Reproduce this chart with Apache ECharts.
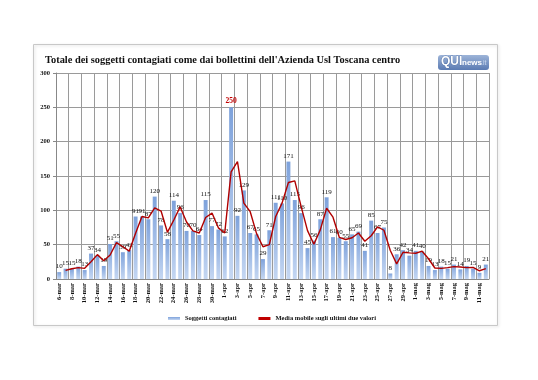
<!DOCTYPE html>
<html><head><meta charset="utf-8">
<script src="https://cdn.jsdelivr.net/npm/echarts@6/dist/echarts.min.js"></script>
<style>html,body{margin:0;padding:0;background:#fff}#c{width:538px;height:380px}</style>
</head><body><div id="c"></div>
<script>
const categories = ['6-mar','7-mar','8-mar','9-mar','10-mar','11-mar','12-mar','13-mar','14-mar','15-mar','16-mar','17-mar','18-mar','19-mar','20-mar','21-mar','22-mar','23-mar','24-mar','25-mar','26-mar','27-mar','28-mar','29-mar','30-mar','31-mar',
'1-apr','2-apr','3-apr','4-apr','5-apr','6-apr','7-apr','8-apr','9-apr','10-apr','11-apr','12-apr','13-apr','14-apr','15-apr','16-apr','17-apr','18-apr','19-apr','20-apr','21-apr','22-apr','23-apr','24-apr','25-apr','26-apr','27-apr','28-apr','29-apr','30-apr',
'1-mag','2-mag','3-mag','4-mag','5-mag','6-mag','7-mag','8-mag','9-mag','10-mag','11-mag','12-mag'];
const contagiati = [10,15,15,18,13,37,34,19,51,55,39,42,91,91,87,120,78,58,114,96,70,70,64,115,77,72,62,250,92,129,67,65,29,71,111,110,171,115,96,45,56,87,119,61,60,55,65,69,41,85,67,75,8,36,42,34,41,40,19,13,18,15,21,14,19,15,9,21];
const mediaMobile = ['-',12.5,15,16.5,15.5,25,35.5,26.5,35,53,47,40.5,66.5,91,89,103.5,99,68,86,105,83,70,67,89.5,96,74.5,67,156,171,110.5,98,66,47,50,91,110.5,140.5,143,105.5,70.5,50.5,71.5,103,90,60.5,57.5,60,67,55,63,76,71,41.5,22,39,38,37.5,40.5,29.5,16,15.5,16.5,18,17.5,16.5,17,12,15];
const yTicks = {min:0, max:300, interval:50};
const titleText = "Totale dei soggetti contagiati come dai bollettini dell'Azienda Usl Toscana centro";
const serif = 'Liberation Serif';

const chart = echarts.init(document.getElementById('c'));
const maxVal = Math.max(...contagiati);
chart.setOption({
  animation:false,
  backgroundColor:'#fff',
  graphic:[
    {type:'rect', shape:{x:33.5,y:44.5,width:464,height:281}, style:{fill:'none', stroke:'#c8c8c8', lineWidth:1, shadowColor:'rgba(0,0,0,0.15)', shadowBlur:3, shadowOffsetX:1, shadowOffsetY:1}, z:-1},
    {type:'text', left:45, top:55, style:{text:titleText, font:'bold 10.4px "Liberation Serif"', fill:'#111'}},
    {type:'group', left:438, top:55, children:[
      {type:'rect', shape:{x:0,y:0,width:51,height:15,r:3}, style:{fill:new echarts.graphic.LinearGradient(0,0,0,1,[{offset:0,color:'#9db4d8'},{offset:1,color:'#5b7bb3'}])}},
      {type:'text', x:3, y:1, style:{text:'QUI', font:'bold 12px "Liberation Sans"', fill:'#fff', stroke:'#3d5f99', lineWidth:0.6}},
      {type:'text', x:24, y:4, style:{text:'news', font:'bold 8px "Liberation Sans"', fill:'#fff'}},
      {type:'text', x:43, y:5, style:{text:'.it', font:'7px "Liberation Sans"', fill:'#c9d8ef'}}
    ]}
  ],
  grid:{left:56, right:49, top:73, bottom:101, containLabel:false},
  legend:{
    left:163, top:310, itemWidth:12, itemHeight:3, itemGap:22,
    textStyle:{fontFamily:serif, fontSize:6.5, fontWeight:'bold', color:'#111'},
    data:[{name:'Soggetti contagiati', icon:'rect'},{name:'Media mobile sugli ultimi due valori', icon:'rect'}]
  },
  xAxis:{
    type:'category', data:categories, boundaryGap:true,
    axisLine:{lineStyle:{color:'#888'}},
    axisTick:{show:false},
    axisLabel:{interval:1, rotate:90, fontFamily:serif, fontSize:6.5, fontWeight:'bold', color:'#111', margin:4},
    splitLine:{show:true, interval:1, lineStyle:{color:'#9a9a9a', width:1}}
  },
  yAxis:{
    type:'value', min:yTicks.min, max:yTicks.max, interval:yTicks.interval,
    axisLine:{show:true, lineStyle:{color:'#888'}},
    axisTick:{show:true, length:3, lineStyle:{color:'#888'}},
    axisLabel:{fontFamily:serif, fontSize:6.5, fontWeight:'bold', color:'#111', margin:6},
    splitLine:{lineStyle:{color:'#9a9a9a', width:1}}
  },
  series:[
    {name:'Soggetti contagiati', type:'bar', data:contagiati.map(v=>v===maxVal?{value:v,label:{color:'#c00000',fontWeight:'bold',fontSize:7.5}}:v),
      barCategoryGap:'38%',
      itemStyle:{color:new echarts.graphic.LinearGradient(0,0,0,1,[{offset:0,color:'#7ea2db'},{offset:1,color:'#c5d7f2'}])},
      label:{show:true, position:'top', distance:2, fontFamily:serif, fontSize:7, color:'#111'}
    },
    {name:'Media mobile sugli ultimi due valori', type:'line', data:mediaMobile, symbol:'none',
      lineStyle:{color:'#b00000', width:1.4}, itemStyle:{color:'#c00000'}, z:3}
  ]
});
</script></body></html>
